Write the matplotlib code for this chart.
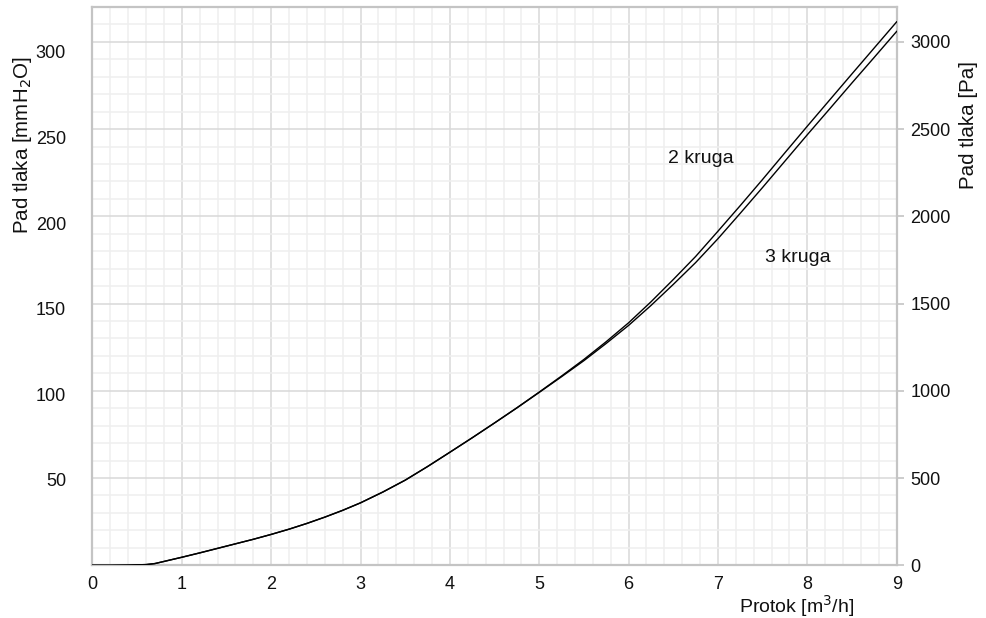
import matplotlib
matplotlib.use("Agg")
import matplotlib.pyplot as plt
from matplotlib.ticker import MultipleLocator, FixedLocator

plt.rcParams['font.family'] = ['Liberation Sans', 'DejaVu Sans']

# Flow [m3/h]
flow = [0, 0.2, 0.4, 0.6, 0.7, 0.8, 0.9, 1.0, 1.2, 1.4, 1.6, 1.8, 2.0, 2.2, 2.4,
        2.6, 2.8, 3.0, 3.25, 3.5, 3.75, 4.0, 4.25, 4.5, 4.75, 5.0, 5.25, 5.5,
        5.75, 6.0, 6.25, 6.5, 6.75, 7.0, 7.25, 7.5, 7.75, 8.0, 8.25, 8.5, 8.75, 9.0]
# Pressure drop [Pa]
dp_2_kruga = [0, 0, 1, 4, 10, 22, 34, 46, 71, 97, 123, 149, 177, 207, 240,
              276, 315, 358, 420, 488, 566, 648, 731, 816, 903, 993, 1085, 1180,
              1282, 1390, 1510, 1638, 1770, 1915, 2062, 2212, 2365, 2517, 2667, 2817, 2966, 3115]
dp_3_kruga = [0, 0, 1, 4, 10, 22, 34, 46, 71, 97, 123, 149, 177, 207, 240,
              276, 315, 358, 420, 488, 566, 648, 731, 816, 902, 991, 1081, 1173,
              1272, 1375, 1489, 1610, 1735, 1872, 2018, 2166, 2317, 2468, 2616, 2765, 2912, 3060]

x_ticks = [0, 1, 2, 3, 4, 5, 6, 7, 8, 9]
pa_ticks = [0, 500, 1000, 1500, 2000, 2500, 3000]
mm_ticks = [50, 100, 150, 200, 250, 300]
MM_TO_PA = 9.80665

TXT = '#111111'
fig = plt.figure(figsize=(9.87, 6.18), dpi=100)
ax = fig.add_axes([0.0937, 0.0853, 0.8148, 0.9034])

ax.plot(flow, dp_2_kruga, color='black', lw=1.0, zorder=5)
ax.plot(flow, dp_3_kruga, color='black', lw=1.0, zorder=5)

ax.set_xlim(0, 9)
ax.set_ylim(0, 3200)
ax.xaxis.set_major_locator(FixedLocator(x_ticks))
ax.xaxis.set_minor_locator(MultipleLocator(0.2))
ax.yaxis.set_major_locator(FixedLocator(pa_ticks))
ax.yaxis.set_minor_locator(MultipleLocator(100))

ax.grid(which='minor', color='#efefef', lw=1.1, zorder=0)
ax.grid(which='major', color='#d9d9d9', lw=1.1, zorder=1)
ax.set_axisbelow(True)

for s in ax.spines.values():
    s.set_color('#c4c4c4')
    s.set_linewidth(1.6)

ax.yaxis.tick_right()
ax.tick_params(axis='y', which='major', length=5, width=1.2, color='#c4c4c4',
               labelsize=13, pad=5, labelcolor=TXT)
ax.tick_params(axis='y', which='minor', length=0)
ax.tick_params(axis='x', which='both', length=0, labelsize=13, pad=8,
               labelcolor=TXT)
ax.set_xticklabels([str(v) for v in x_ticks])
ax.set_yticklabels([str(v) for v in pa_ticks])

sec = ax.secondary_yaxis('left', functions=(lambda p: p / MM_TO_PA,
                                             lambda m: m * MM_TO_PA))
sec.yaxis.set_major_locator(FixedLocator(mm_ticks))
sec.yaxis.set_minor_locator(FixedLocator([]))
sec.tick_params(axis='y', length=0, labelsize=13, pad=19, labelcolor=TXT)
sec.spines['left'].set_visible(False)

ax.text(6.81, 2330, '2 kruga', fontsize=14, ha='center', va='center', color=TXT)
ax.text(7.89, 1764, '3 kruga', fontsize=14, ha='center', va='center', color=TXT)

fig.text(797 / 987, 1 - 613 / 618, 'Protok [m$^3$/h]', fontsize=14,
         ha='center', va='baseline', color=TXT)
fig.text(23 / 987, 1 - 145 / 618, 'Pad tlaka [mmH$_2$O]', fontsize=14.8, rotation=90,
         ha='center', va='center', color=TXT)
fig.text(969 / 987, 1 - 125 / 618, 'Pad tlaka [Pa]', fontsize=14.8, rotation=90,
         ha='center', va='center', color=TXT)

fig.savefig('out.png', dpi=100)
